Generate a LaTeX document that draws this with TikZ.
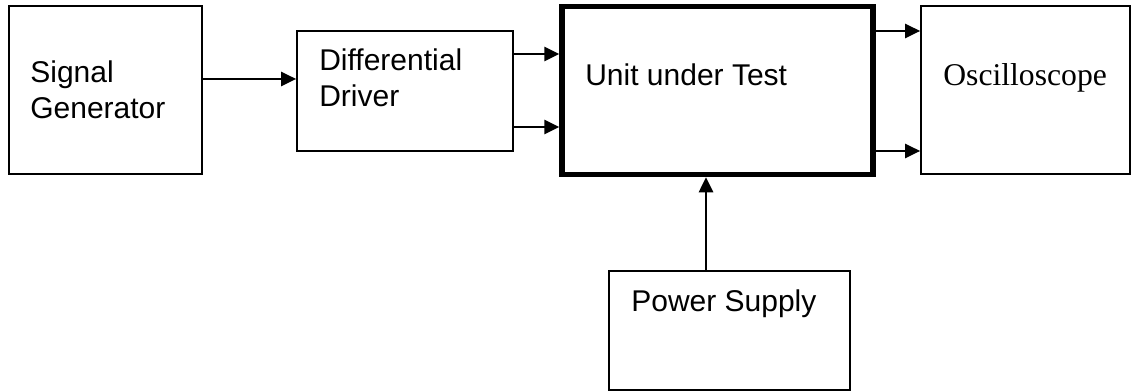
\documentclass[tikz,border=0pt]{standalone}
\usepackage{fontspec}
\setmainfont{Liberation Sans}
\newfontfamily\timesfont{Liberation Serif}
\usetikzlibrary{arrows.meta}

\begin{document}
\begin{tikzpicture}[x=0.6pt,y=-0.6pt]
\tikzstyle{block}=[draw=black,line width=1.1pt,inner sep=0pt]
\tikzstyle{bigblock}=[block,line width=3.3pt]
\tikzstyle{lbl}=[inner sep=0pt,anchor=north west,align=left,font=\fontsize{18pt}{21.6pt}\selectfont]
\tikzstyle{conn}=[draw=black,line width=1.1pt,-{Triangle[length=9pt,width=8.6pt]}]
\useasboundingbox (0,0) rectangle (1133,392);
\node [block,minimum width=115.8pt,minimum height=100.8pt] (sg) at (105.5,90) {};
\node [block,minimum width=129.6pt,minimum height=72pt] (dd) at (405,91) {};
\node [bigblock,minimum width=186.6pt,minimum height=100.8pt] (uut) at (717.5,90.6) {};
\node [block,minimum width=125.4pt,minimum height=100.8pt] (osc) at (1025.5,90) {};
\node [block,minimum width=144.6pt,minimum height=71.4pt] (ps) at (729.5,330.5) {};
\node [lbl] (sgtext) at (30,60) {Signal\\Generator};
\node [lbl] (ddtext) at (319,48) {Differential\\Driver};
\node [lbl] (uuttext) at (585,63) {Unit under Test};
\node [lbl,font=\timesfont\fontsize{19pt}{22pt}\selectfont] (osctext) at (943,63) {Oscilloscope};
\node [lbl] (pstext) at (631,289) {Power Supply};
\draw [conn] (sg.east |- 0,79) -- (dd.west |- 0,79);
\draw [conn] (dd.east |- 0,54) -- (uut.west |- 0,54);
\draw [conn] (dd.east |- 0,127) -- (uut.west |- 0,127);
\draw [conn] (uut.east |- 0,31) -- (osc.west |- 0,31);
\draw [conn] (uut.east |- 0,151) -- (osc.west |- 0,151);
\draw [conn] (ps.north -| 706,0) -- (uut.south -| 706,0);
\end{tikzpicture}
\end{document}
